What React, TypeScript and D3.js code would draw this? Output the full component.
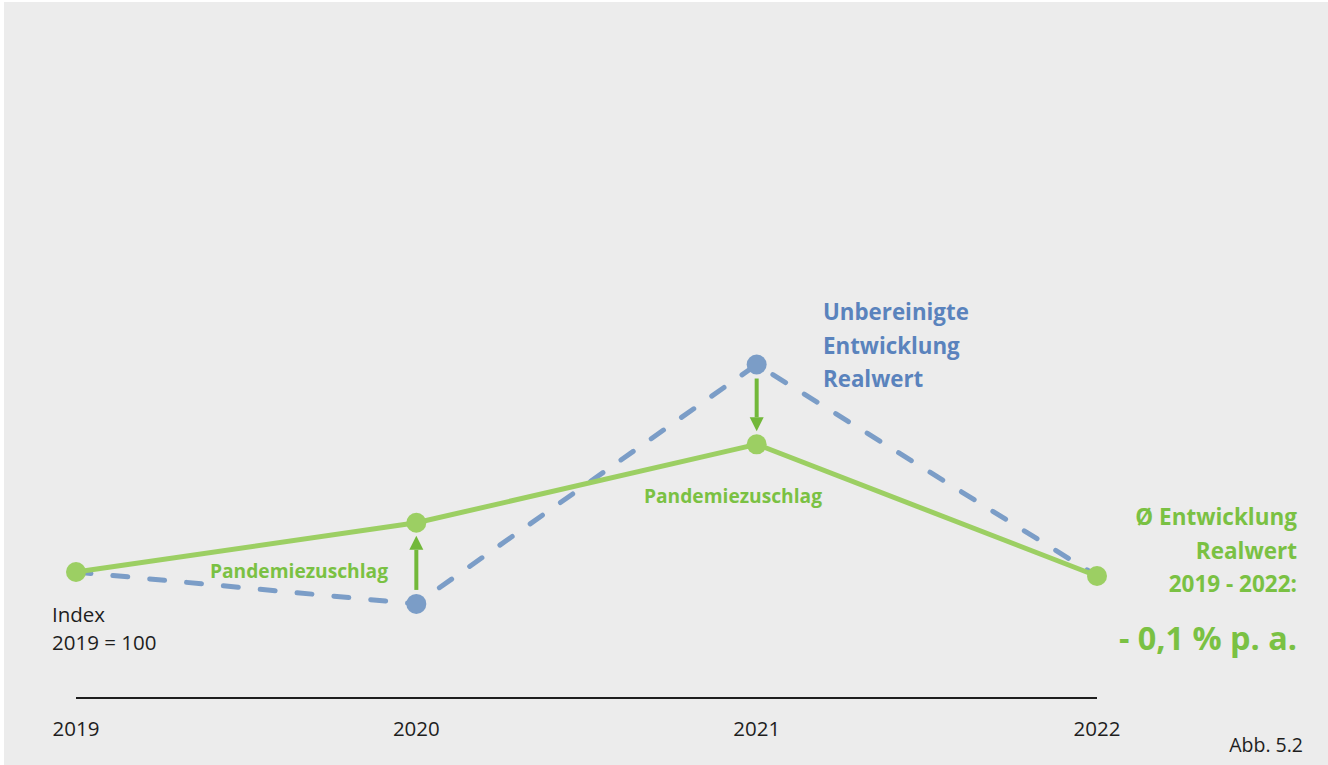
import React from "react";
import * as d3 from "d3";

const years = ["2019", "2020", "2021", "2022"];
const realwert = [100, 103.7, 109.6, 99.7];
const unbereinigt = [100, 97.6, 115.6, 99.7];
const arrowYears = ["2020", "2021"];
const notesLeft = ["Index", "2019 = 100"];
const blueLabel = ["Unbereinigte", "Entwicklung", "Realwert"];
const greenLabel = ["Ø Entwicklung", "Realwert", "2019 - 2022:"];
const greenValue = "- 0,1 % p. a.";

const W = 1328;
const H = 765;
const GREEN_LINE = "#9ccf63";
const GREEN_TXT = "#7ac143";
const GREEN_ARROW = "#72b83a";
const BLUE = "#7b9dc7";
const BLUE_TXT = "#5a83bd";
const FONT = "'Open Sans', sans-serif";

export default function App() {
  const x = d3.scalePoint<string>().domain(years).range([76, 1097]);
  const y = d3.scaleLinear().domain([100, 110]).range([572, 439]);

  const line = d3
    .line<number>()
    .x((_, i) => x(years[i]) as number)
    .y((d) => y(d));

  const arrows = arrowYears.map((yr) => {
    const i = years.indexOf(yr);
    const from = y(unbereinigt[i]);
    const to = y(realwert[i]);
    const dir = Math.sign(to - from);
    const x0 = x(yr) as number;
    const start = from + dir * 14;
    const tip = to - dir * 13;
    const headBase = tip - dir * 14;
    return { x0, start, tip, headBase, key: yr };
  });

  return (
    <div style={{ position: "absolute", left: 0, top: 0 }}>
      <svg width={W} height={H} style={{ display: "block", background: "#fff" }}>
        <rect x={4} y={2} width={W - 4} height={H - 2} fill="#ececec" />
        {/* axis */}
        <line x1={x("2019")} x2={x("2022")} y1={698} y2={698} stroke="#1e1e1e" strokeWidth={2} />
        {years.map((yr) => (
          <text key={yr} x={x(yr)} y={736} textAnchor="middle" fontFamily={FONT} fontSize={20.5} fill="#1e1e1e">
            {yr}
          </text>
        ))}
        {/* dashed unbereinigt */}
        <path d={line(unbereinigt) || ""} fill="none" stroke={BLUE} strokeWidth={5} strokeDasharray="15 22" strokeLinecap="round" />
        {/* green realwert */}
        <path d={line(realwert) || ""} fill="none" stroke={GREEN_LINE} strokeWidth={5} strokeLinejoin="round" />
        {unbereinigt.map((v, i) =>
          v !== realwert[i] ? <circle key={"b" + i} cx={x(years[i])} cy={y(v)} r={10} fill={BLUE} /> : null
        )}
        {realwert.map((v, i) => (
          <circle key={"g" + i} cx={x(years[i])} cy={y(v)} r={10} fill={GREEN_LINE} />
        ))}
        {arrows.map((a) => (
          <g key={a.key}>
            <line x1={a.x0} x2={a.x0} y1={a.start} y2={a.headBase} stroke={GREEN_ARROW} strokeWidth={4} />
            <path d={`M${a.x0 - 7},${a.headBase} L${a.x0 + 7},${a.headBase} L${a.x0},${a.tip} Z`} fill={GREEN_ARROW} />
          </g>
        ))}
        {/* Pandemiezuschlag labels */}
        <text x={299} y={578} textAnchor="middle" fontFamily={FONT} fontWeight={700} fontSize={19.2} fill={GREEN_TXT}>
          Pandemiezuschlag
        </text>
        <text x={733} y={503} textAnchor="middle" fontFamily={FONT} fontWeight={700} fontSize={19.2} fill={GREEN_TXT}>
          Pandemiezuschlag
        </text>
        {/* Index note */}
        {notesLeft.map((t, i) => (
          <text key={t} x={52} y={622 + i * 28} fontFamily={FONT} fontSize={20.5} fill="#1e1e1e">
            {t}
          </text>
        ))}
        {/* blue label */}
        {blueLabel.map((t, i) => (
          <text key={t} x={823} y={320 + i * 33.5} fontFamily={FONT} fontWeight={700} fontSize={22.3} fill={BLUE_TXT}>
            {t}
          </text>
        ))}
        {/* green summary */}
        {greenLabel.map((t, i) => (
          <text key={t} x={1297} y={525 + i * 33.5} textAnchor="end" fontFamily={FONT} fontWeight={700} fontSize={22.5} fill={GREEN_TXT}>
            {t}
          </text>
        ))}
        <text x={1297} y={650} textAnchor="end" fontFamily={FONT} fontWeight={700} fontSize={32.4} fill={GREEN_TXT}>
          {greenValue}
        </text>
        <text x={1303} y={752} textAnchor="end" fontFamily={FONT} fontSize={19.5} fill="#1e1e1e">
          Abb. 5.2
        </text>
      </svg>
    </div>
  );
}
